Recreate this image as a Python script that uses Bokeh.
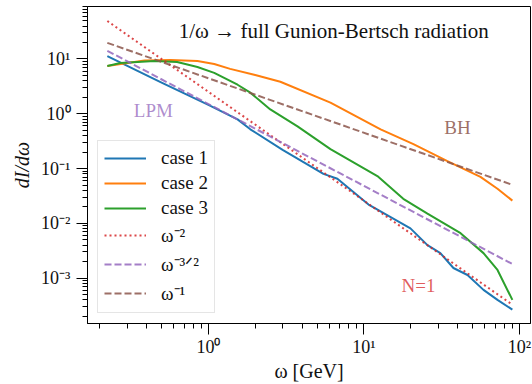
from bokeh.plotting import figure
from bokeh.models import (Range1d, FixedTicker, CustomJSTickFormatter, Legend,
                          LegendItem, Label)
from bokeh.embed import file_html
from bokeh.resources import INLINE

# ---- data ----
case1_w = [0.224, 0.5, 1.0, 1.54, 1.86, 3.0, 5.49, 6.75, 10.7, 11.9, 19.9, 25.6, 31.0,
           37.6, 46.3, 58.7, 72.2, 90.0]
case1_y = [11.3, 3.7, 1.45, 0.79, 0.52, 0.22, 0.080, 0.065, 0.022, 0.0186, 0.0081,
           0.0040, 0.00286, 0.00153, 0.00114, 6.1e-4, 4.0e-4, 2.66e-4]

case2_w = [0.224, 0.388, 0.57, 0.85, 1.09, 1.38, 2.0, 2.9, 6.09, 12.8, 20.8, 34.4, 56.1,
           72.2, 90.0]
case2_y = [7.47, 9.4, 9.6, 9.2, 8.1, 6.6, 5.1, 3.84, 1.6, 0.52, 0.279, 0.137, 0.0704,
           0.0428, 0.026]

case3_w = [0.224, 0.272, 0.45, 0.63, 0.85, 1.09, 1.54, 1.86, 2.5, 3.74, 6.09, 12.2,
           17.9, 25.6, 41.8, 58.7, 72.2, 90.0]
case3_y = [7.47, 8.47, 9.2, 8.83, 7.16, 5.58, 3.39, 2.43, 1.2, 0.59, 0.226, 0.073,
           0.028, 0.0151, 0.0066, 0.00286, 0.00141, 4.0e-4]

ref_w = [0.224, 90.0]
ref_m2_y = [49.3, 3.27e-4]      # omega^-2
ref_m32_y = [14.1, 1.81e-3]     # omega^-3/2
ref_m1_y = [19.7, 0.0505]       # omega^-1

x_major = [1, 10, 100]
y_major = [1e-3, 1e-2, 1e-1, 1, 10]

series_labels = ["case 1", "case 2", "case 3", "ω⁻²", "ω⁻³ᐟ²", "ω⁻¹"]

# ---- styling ----
SERIF = "Liberation Serif"
C_BLUE, C_ORANGE, C_GREEN = "#1f77b4", "#ff7f0e", "#2ca02c"
C_RED, C_PURPLE, C_BROWN = "#d62728", "#9467bd", "#8c564b"

p = figure(width=532, height=384, x_axis_type="log", y_axis_type="log",
           x_range=Range1d(0.167, 117.7), y_range=Range1d(1.485e-4, 90.8),
           output_backend="svg", toolbar_location=None,
           min_border_left=87, min_border_right=2, min_border_top=6, min_border_bottom=58)
p.grid.visible = False
p.outline_line_color = "black"
p.outline_line_width = 1
p.background_fill_color = "white"
p.border_fill_color = "white"

def minor_list(lo_exp, hi_exp, lo, hi):
    out = []
    for e in range(lo_exp, hi_exp + 1):
        for k in range(2, 10):
            v = k * 10.0 ** e
            if lo <= v <= hi:
                out.append(v)
    return out

fmt = CustomJSTickFormatter(code="""
const sup = {"0":"\u2070","1":"\u00b9","2":"\u00b2","3":"\u00b3","4":"\u2074","5":"\u2075",
             "6":"\u2076","7":"\u2077","8":"\u2078","9":"\u2079","-":"\u207b"};
const e = Math.round(Math.log10(tick));
return "10" + String(e).split("").map(c => sup[c]).join("");
""")

p.xaxis.ticker = FixedTicker(ticks=x_major, minor_ticks=minor_list(-1, 2, 0.167, 117.7))
p.yaxis.ticker = FixedTicker(ticks=y_major, minor_ticks=minor_list(-4, 1, 1.485e-4, 90.8))
for ax in (p.xaxis[0], p.yaxis[0]):
    ax.formatter = fmt
    ax.major_tick_out = 11
    ax.major_tick_in = 0
    ax.minor_tick_out = 5
    ax.minor_tick_in = 0
    ax.axis_line_color = "black"
    ax.major_tick_line_color = "black"
    ax.minor_tick_line_color = "black"
    ax.major_label_text_font = SERIF
    ax.major_label_text_font_size = "18px"
    ax.major_label_text_color = "#111111"
    ax.axis_label_text_font = SERIF
    ax.axis_label_text_font_size = "20px"
    ax.axis_label_text_font_style = "normal"
    ax.axis_label_text_color = "#111111"

p.xaxis.major_label_standoff = 2
p.xaxis.axis_label = "ω [GeV]"
p.xaxis.axis_label_standoff = 0
p.yaxis.major_label_standoff = 6
p.yaxis.axis_label = "dI/dω"
p.yaxis.axis_label_text_font_style = "italic"
p.yaxis.axis_label_standoff = 5

lw = 2
r1 = p.line(case1_w, case1_y, line_color=C_BLUE, line_width=lw)
r2 = p.line(case2_w, case2_y, line_color=C_ORANGE, line_width=lw)
r3 = p.line(case3_w, case3_y, line_color=C_GREEN, line_width=lw)
r4 = p.line(ref_w, ref_m2_y, line_color=C_RED, line_width=lw, line_dash="2 3", line_alpha=0.85)
r5 = p.line(ref_w, ref_m32_y, line_color=C_PURPLE, line_width=lw, line_dash="7 3", line_alpha=0.85)
r6 = p.line(ref_w, ref_m1_y, line_color=C_BROWN, line_width=lw, line_dash="7 3", line_alpha=0.85)

legend = Legend(items=[LegendItem(label=l, renderers=[r]) for l, r in
                       zip(series_labels, [r1, r2, r3, r4, r5, r6])],
                location=(10, 10))
legend.label_text_font = SERIF
legend.label_text_font_size = "19px"
legend.label_text_color = "#111111"
legend.glyph_width = 42
legend.glyph_height = 20
legend.label_height = 20
legend.spacing = 3
legend.padding = 6
legend.margin = 0
legend.label_standoff = 15
legend.border_line_color = "#cccccc"
legend.border_line_width = 1
legend.background_fill_alpha = 0.8
p.add_layout(legend)

def note(x, y, text, color, alpha, size="19px"):
    p.add_layout(Label(x=x, y=y, text=text, text_color=color, text_alpha=alpha,
                       text_font=SERIF, text_font_size=size,
                       text_align="center", text_baseline="middle"))

note(6.4, 32, "1/ω → full Gunion-Bertsch radiation", "#111111", 1.0, "21px")
note(0.443, 1.15, "LPM", C_PURPLE, 0.75)
note(39.9, 0.565, "BH", C_BROWN, 0.85)
note(22.4, 7.2e-4, "N=1", C_RED, 0.75)

open("out.html", "w").write(file_html(p, INLINE))
